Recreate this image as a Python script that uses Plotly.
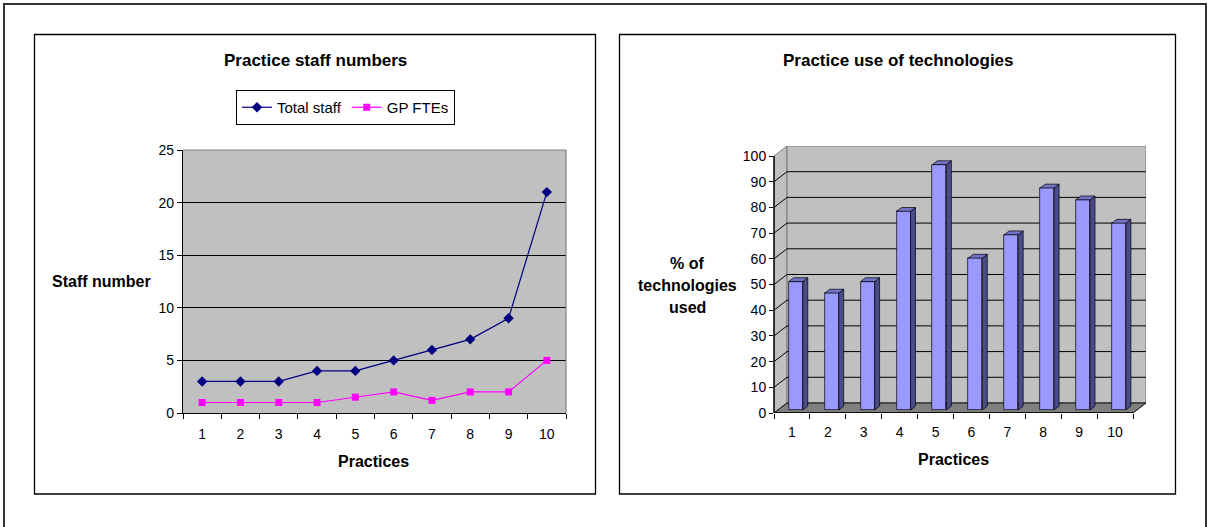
import plotly.graph_objects as go

# ---- data -------------------------------------------------------------
practices = [1, 2, 3, 4, 5, 6, 7, 8, 9, 10]
total_staff = [3, 3, 3, 4, 4, 5, 6, 7, 9, 21]
gp_ftes = [1, 1, 1, 1, 1.5, 2, 1.2, 2, 2, 5]
tech_pct = [50.0, 45.5, 50.0, 77.3, 95.5, 59.1, 68.2, 86.4, 81.8, 72.7]
staff_ticks = [0, 5, 10, 15, 20, 25]
pct_ticks = [0, 10, 20, 30, 40, 50, 60, 70, 80, 90, 100]

# ---- page geometry ----------------------------------------------------
W, H = 1208, 527
FONT = "Arial, 'Liberation Sans', sans-serif"


def px(x):
    return x / W


def py(y):
    return (H - y) / H


# oblique depth of the 3-D column chart, in axis units
DX, DY = 0.362, 3.9
# columns sit part-way into the floor
BX, BY = 0.30 * DX, 0.30 * DY
SX, SY = 0.38 * DX, 0.38 * DY
BW = 0.39

fig = go.Figure()

# ---- left chart: staff numbers ---------------------------------------
fig.add_trace(go.Scatter(
    x=practices, y=total_staff, name="Total staff", mode="lines+markers",
    line=dict(color="#000080", width=1.2),
    marker=dict(symbol="diamond", size=8, color="#000080"),
    xaxis="x", yaxis="y"))
fig.add_trace(go.Scatter(
    x=practices, y=gp_ftes, name="GP FTEs", mode="lines+markers",
    line=dict(color="#FF00FF", width=1.2),
    marker=dict(symbol="square", size=7, color="#FF00FF"),
    xaxis="x", yaxis="y"))

# ---- right chart: 3-D style columns ----------------------------------
fig.add_trace(go.Bar(
    x=[p + BX for p in practices], y=tech_pct, base=BY, width=BW,
    marker=dict(color="#9999FF", line=dict(color="#000000", width=0.7)),
    showlegend=False, hoverinfo="skip", xaxis="x2", yaxis="y2"))

side_x, side_y, top_x, top_y = [], [], [], []
for p, v in zip(practices, tech_pct):
    xl = p + BX - BW / 2
    xr = p + BX + BW / 2
    b, t = BY, BY + v
    side_x += [xr, xr + SX, xr + SX, xr, xr, None]
    side_y += [b, b + SY, t + SY, t, b, None]
    top_x += [xl, xr, xr + SX, xl + SX, xl, None]
    top_y += [t, t, t + SY, t + SY, t, None]

fig.add_trace(go.Scatter(
    x=side_x, y=side_y, mode="lines", fill="toself", fillcolor="#4B4B8A",
    line=dict(color="#000000", width=0.7), showlegend=False,
    hoverinfo="skip", xaxis="x2", yaxis="y2"))
fig.add_trace(go.Scatter(
    x=top_x, y=top_y, mode="lines", fill="toself", fillcolor="#7272C8",
    line=dict(color="#000000", width=0.7), showlegend=False,
    hoverinfo="skip", xaxis="x2", yaxis="y2"))

shapes = []

# outer frame and the two chart frames
shapes.append(dict(type="rect", xref="paper", yref="paper",
                   x0=px(4), x1=px(1206), y0=py(540), y1=py(4),
                   line=dict(color="#333333", width=2)))
shapes.append(dict(type="rect", xref="paper", yref="paper",
                   x0=px(34.5), x1=px(595.5), y0=py(494), y1=py(34.5),
                   line=dict(color="#000000", width=1.3)))
shapes.append(dict(type="rect", xref="paper", yref="paper",
                   x0=px(619.5), x1=px(1175.5), y0=py(494), y1=py(34.5),
                   line=dict(color="#000000", width=1.3)))

# left plot area: grey fill with a grey frame on top and right
shapes.append(dict(type="rect", xref="x domain", yref="y domain",
                   x0=0, x1=1, y0=0, y1=1, layer="below",
                   fillcolor="#C0C0C0", line=dict(width=0)))
shapes.append(dict(type="line", xref="x domain", yref="y domain",
                   x0=0, x1=1, y0=1, y1=1, layer="above",
                   line=dict(color="#808080", width=1.2)))
shapes.append(dict(type="line", xref="x domain", yref="y domain",
                   x0=1, x1=1, y0=0, y1=1, layer="above",
                   line=dict(color="#808080", width=1.2)))

# right plot: side wall, back wall, floor
x_lo, x_hi = practices[0] - 0.5, practices[-1] + 0.5
y_top = pct_ticks[-1]
shapes.append(dict(type="path", xref="x2", yref="y2", layer="below",
                   path=f"M {x_lo},0 L {x_lo + DX},{DY} L {x_lo + DX},{y_top + DY} "
                        f"L {x_lo},{y_top} Z",
                   fillcolor="#C0C0C0", line=dict(color="#808080", width=1)))
shapes.append(dict(type="rect", xref="x2", yref="y2", layer="below",
                   x0=x_lo + DX, x1=x_hi + DX, y0=DY, y1=y_top + DY,
                   fillcolor="#C0C0C0", line=dict(color="#808080", width=1.2)))
for v in pct_ticks[1:-1]:
    shapes.append(dict(type="path", xref="x2", yref="y2", layer="below",
                       path=f"M {x_lo},{v} L {x_lo + DX},{v + DY} L {x_hi + DX},{v + DY}",
                       line=dict(color="#000000", width=1)))
shapes.append(dict(type="path", xref="x2", yref="y2", layer="below",
                   path=f"M {x_lo},0 L {x_hi},0 L {x_hi + DX},{DY} L {x_lo + DX},{DY} Z",
                   fillcolor="#808080", line=dict(color="#000000", width=1)))
# front axis lines of the 3-D chart
shapes.append(dict(type="line", xref="x2 domain", yref="y2",
                   x0=0, x1=0, y0=0, y1=y_top,
                   line=dict(color="#000000", width=1.5)))
shapes.append(dict(type="line", xref="x2", yref="y2",
                   x0=x_lo, x1=x_hi, y0=0, y1=0,
                   line=dict(color="#000000", width=1.5)))

annotations = []


def label(text, x, y, size=16, bold=True):
    annotations.append(dict(
        text=f"<b>{text}</b>" if bold else text, xref="paper", yref="paper",
        x=px(x), y=py(y), xanchor="center", yanchor="middle", showarrow=False,
        font=dict(family=FONT, size=size, color="#000000")))


label("Practice staff numbers", 315, 60, 17)
label("Staff number", 101, 281, 16)
label("Practices", 373, 461, 16)
label("Practice use of technologies", 898, 60, 17)
label("% of", 687, 263, 16)
label("technologies", 687, 285, 16)
label("used", 687, 307, 16)
label("Practices", 953, 459, 16)

boundaries = [p - 0.5 for p in practices] + [practices[-1] + 0.5]
tickfont = dict(family=FONT, size=14, color="#000000")

fig.update_layout(
    width=W, height=H,
    margin=dict(l=0, r=0, t=0, b=0, pad=0, autoexpand=False),
    paper_bgcolor="#FFFFFF", plot_bgcolor="rgba(0,0,0,0)",
    font=dict(family=FONT, size=14, color="#000000"),
    shapes=shapes, annotations=annotations, bargap=0,
    legend=dict(orientation="h", x=px(236), y=py(90), xanchor="left",
                yanchor="top", bgcolor="#FFFFFF", bordercolor="#000000",
                borderwidth=1, font=dict(family=FONT, size=15),
                itemwidth=30, tracegroupgap=0),
    xaxis=dict(domain=[px(183), px(566)], range=[x_lo, x_hi],
               tickvals=practices, ticks="outside", ticklen=8,
               tickcolor="rgba(0,0,0,0)", tickfont=tickfont,
               showgrid=False, zeroline=False, showline=True,
               linecolor="#000000", linewidth=1.3, fixedrange=True,
               automargin=False,
               minor=dict(tickvals=boundaries, ticks="outside", ticklen=5,
                          tickcolor="#000000", tickwidth=1, showgrid=False),
               anchor="y"),
    yaxis=dict(domain=[py(413), py(150)], range=[staff_ticks[0], staff_ticks[-1]],
               tickvals=staff_ticks, ticks="outside", ticklen=5,
               tickcolor="#000000", tickfont=tickfont, showgrid=True,
               gridcolor="#000000", gridwidth=1, zeroline=False,
               showline=True, linecolor="#000000", linewidth=1.3,
               fixedrange=True, automargin=False, anchor="x"),
    xaxis2=dict(domain=[px(774), px(1146)], range=[x_lo, x_hi + DX],
                tickvals=practices, ticks="outside", ticklen=6,
                tickcolor="rgba(0,0,0,0)", tickfont=tickfont,
                showgrid=False, zeroline=False, showline=False,
                fixedrange=True, automargin=False,
                minor=dict(tickvals=boundaries, ticks="outside", ticklen=5,
                           tickcolor="#000000", tickwidth=1, showgrid=False),
                anchor="y2"),
    yaxis2=dict(domain=[py(413), py(146)], range=[0, y_top + DY],
                tickvals=pct_ticks, ticks="outside", ticklen=4,
                tickcolor="#000000", tickfont=tickfont, showgrid=False,
                zeroline=False, showline=False, fixedrange=True,
                automargin=False, anchor="x2"),
)

fig.write_html("out.html")
